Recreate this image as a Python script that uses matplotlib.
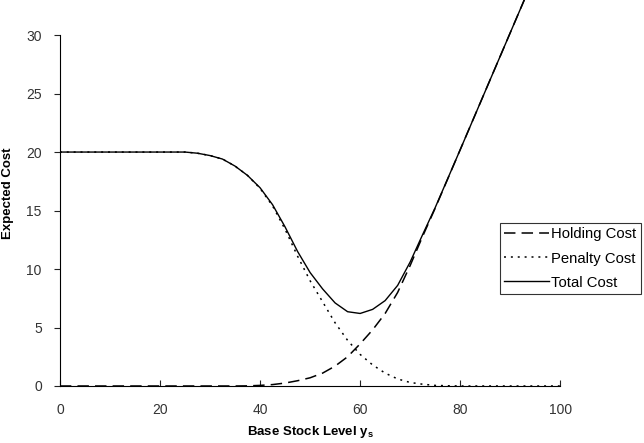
import matplotlib
matplotlib.use("Agg")
import matplotlib.pyplot as plt

plt.rcParams['font.family'] = ['Liberation Sans', 'DejaVu Sans']
plt.rcParams['mathtext.fontset'] = 'custom'
plt.rcParams['mathtext.rm'] = 'Liberation Sans'
plt.rcParams['mathtext.bf'] = 'Liberation Sans:bold'

# base stock level
x = [0, 5, 10, 15, 20, 25, 27.5, 30, 32.5, 35, 37.5, 40, 42.5, 45, 47.5, 50,
     52.5, 55, 57.5, 60, 62.5, 65, 67.5, 70, 72.5, 75, 77.5, 80, 82.5, 85,
     87.5, 90, 92.5, 95, 97.5, 100]

holding = [0, 0, 0, 0, 0, 0, 0, 0, 0, 0, 0.01, 0.05, 0.12, 0.25, 0.45, 0.7,
           1.1, 1.7, 2.5, 3.6, 4.8, 6.2, 8.0, 10.3, 12.8, 15.2, 17.7, 20.2, 22.7, 25.2,
           27.7, 30.2, 32.7, 35.2, 37.7, 40.2]

penalty = [20, 20, 20, 20, 20, 20, 19.9, 19.7, 19.4, 18.8, 18.0, 16.9, 15.4, 13.4, 11.1, 9.0,
           7.2, 5.4, 3.9, 2.7, 1.8, 1.1, 0.6, 0.3, 0.15, 0.05, 0.02, 0, 0, 0,
           0, 0, 0, 0, 0, 0]

total = [20, 20, 20, 20, 20, 20, 19.9, 19.7, 19.4, 18.8, 18.0, 16.95, 15.5, 13.6, 11.5, 9.7,
         8.3, 7.1, 6.35, 6.2, 6.55, 7.3, 8.6, 10.6, 12.95, 15.25, 17.72, 20.2, 22.7, 25.2,
         27.7, 30.2, 32.7, 35.2, 37.7, 40.2]

fig = plt.figure(figsize=(6.44, 4.43), dpi=100)
ax = fig.add_axes([0.093, 0.1287, 0.777, 0.8713])

ax.plot(x, holding, color='black', lw=1.1, ls=(0, (7.5, 4)), label='Holding Cost')
ax.plot(x, penalty, color='black', lw=1.1, ls=(0, (1.3, 3.2)), label='Penalty Cost')
ax.plot(x, total, color='black', lw=1.0, ls='-', label='Total Cost')

ax.set_xlim(0, 100)
ax.set_ylim(0, 33)
ax.set_xticks([0, 20, 40, 60, 80, 100])
ax.set_yticks([0, 5, 10, 15, 20, 25, 30])
ax.spines['top'].set_visible(False)
ax.spines['right'].set_visible(False)
ax.spines['left'].set_bounds(0, 30)
ax.tick_params(axis='x', direction='in', length=4, labelsize=10, pad=12, colors='#222222')
ax.tick_params(axis='y', direction='out', length=4, labelsize=10, pad=9, colors='#222222')
for lab in ax.get_xticklabels() + ax.get_yticklabels():
    lab.set_color('#333333')

ax.set_xlabel(r'Base Stock Level $\mathbf{y_s}$', fontsize=9.5, fontweight='bold', labelpad=5)
ax.set_ylabel('Expected Cost', fontsize=9.5, fontweight='bold', labelpad=9)

leg = ax.legend(loc='upper left', bbox_to_anchor=(0.7764, 0.4966), bbox_transform=fig.transFigure,
                fontsize=10.7, frameon=True, fancybox=False, edgecolor='black',
                handlelength=3.0, handletextpad=0.15, borderpad=0.3, labelspacing=0.68,
                borderaxespad=0)
leg.get_frame().set_linewidth(0.8)

fig.savefig('out.png', dpi=100)
